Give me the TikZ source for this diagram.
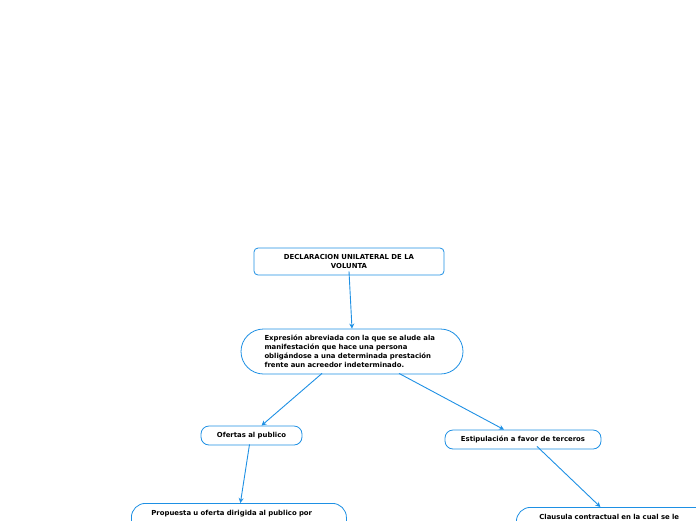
\documentclass[tikz,border=0pt]{standalone}
\usepackage{fontspec}
\setmainfont{DejaVu Sans}
\usepackage{xcolor}
\definecolor{line}{RGB}{30,144,228}
\usetikzlibrary{positioning, arrows.meta, shapes.misc, calc}

\begin{document}
\begin{tikzpicture}[x=1pt, y=-1pt,
  box/.style={draw=line, fill=white, rounded corners=4pt, line width=0.8pt,
              font=\fontsize{6.9}{9}\selectfont\bfseries, align=center},
  pill/.style={draw=line, fill=white, rounded rectangle, line width=0.8pt,
               font=\fontsize{6.9}{9}\selectfont\bfseries, align=left, inner sep=0pt},
  tag/.style={draw=line, fill=white, rounded corners=8pt, line width=0.8pt,
              font=\fontsize{6.9}{9}\selectfont\bfseries, inner sep=0pt},
  wide/.style={draw=line, fill=white, rounded corners=14pt, line width=0.8pt,
               font=\fontsize{6.9}{9}\selectfont\bfseries, align=left, inner sep=0pt},
  arr/.style={-{Stealth[length=5pt, width=5pt]}, line width=0.9pt, color=line},
]
  \useasboundingbox (0,0) rectangle (696,520);
  \clip (0,0) rectangle (696,520);

  % Top layer
  \node[box, minimum width=190pt, minimum height=27pt, inner sep=0pt] (decl) at (349,261.5)
    {DECLARACION UNILATERAL DE LA\\VOLUNTA};

  % Definition
  \node[pill, minimum width=222pt, minimum height=45pt, text width=175pt] (expr) at (352,351.5)
    {Expresión abreviada con la que se alude ala\\manifestación que hace una persona\\obligándose a una determinada prestación\\frente aun acreedor indeterminado.};

  % Middle layer
  \node[tag, minimum width=101pt, minimum height=19pt] (ofertas) at (251.5,435.5) {Ofertas al publico};
  \node[tag, minimum width=156pt, minimum height=19pt] (estip) at (523,439.5) {Estipulación a favor de terceros};

  % Bottom layer
  \node[wide, anchor=north west, minimum width=215pt, minimum height=40pt,
        text width=175pt, text depth=22pt, inner xsep=20pt, inner ysep=7pt] (propuesta) at (131,503)
    {Propuesta u oferta dirigida al publico por};
  \node[wide, anchor=north west, minimum width=220pt, minimum height=40pt,
        text width=174pt, text depth=22pt, inner xsep=23pt, inner ysep=7pt] (clausula) at (516,507)
    {Clausula contractual en la cual se le};

  % Arrows
  \draw[arr] ([yshift=4pt]decl.south) -- (expr.north);
  \draw[arr] ([xshift=-30pt,yshift=1pt]expr.south) -- ([xshift=10pt]ofertas.north);
  \draw[arr] ([xshift=47pt,yshift=1pt]expr.south) -- ([xshift=-19pt]estip.north);
  \draw[arr] ([xshift=-2pt,yshift=1pt]ofertas.south) -- ([xshift=1.5pt]propuesta.north);
  \draw[arr] ([xshift=14pt,yshift=3pt]estip.south) -- ([xshift=-26pt]clausula.north);
\end{tikzpicture}
\end{document}
